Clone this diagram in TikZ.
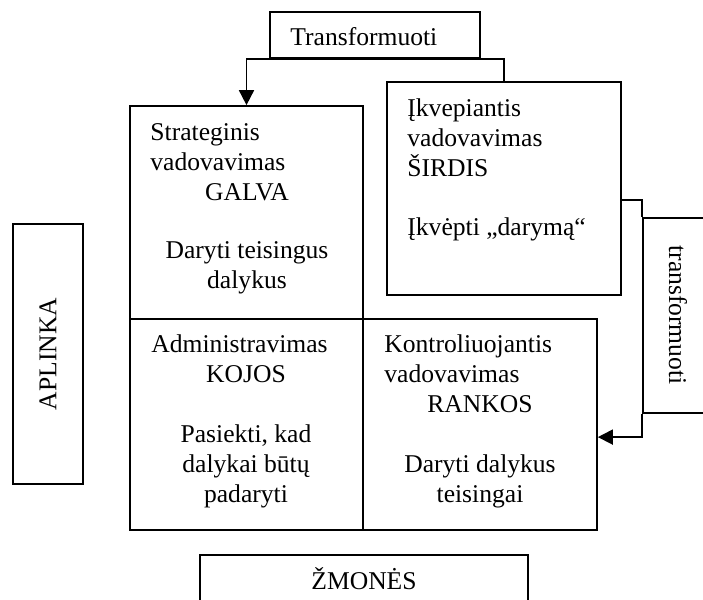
\documentclass[tikz,border=0pt]{standalone}
\usepackage{fontspec}
\setmainfont{Liberation Serif}
\usepackage{tikz}
\usetikzlibrary{positioning}
\usetikzlibrary{fit}
\usetikzlibrary{arrows.meta}

\begin{document}
\begin{tikzpicture}[x=0.469pt, y=-0.469pt,
    box/.style={draw, line width=0.8pt, inner sep=0pt},
    txt/.style={inner sep=0pt, align=left, font=\fontsize{12}{14.07}\selectfont},
    ctxt/.style={txt, align=center, anchor=base},
    arr/.style={line width=0.8pt, -{Triangle[length=7pt, width=7pt]}}]
              \useasboundingbox (0,0) rectangle (703,599);
              \clip (0,0) rectangle (703,599);
              % Blokai
              \node[box, fit={(270,12) (480,58)}] (trans) {};
              \node[box, fit={(130,106) (363,319)}] (galva) {};
              \node[box, fit={(387,82) (621,295)}] (sirdis) {};
              \node[box, fit={(130,319) (363,530)}] (kojos) {};
              \node[box, fit={(363,319) (597,530)}] (rankos) {};
              \node[box, fit={(13,224) (83,484)}] (aplinka) {};
              \node[box, fit={(643,218) (713,413)}] (transf) {};
              \node[box, fit={(200,555) (528,615)}] (zmones) {};

              % Tekstai (base = paskutine eilute)
              \node[txt, anchor=base west] (transT) at (290,45) {Transformuoti};
              \node[txt, anchor=base west] (galvaA) at (150,170) {Strateginis\\vadovavimas};
              \node[ctxt] (galvaB) at (247,200) {GALVA};
              \node[ctxt] (galvaC) at (247,288) {Daryti teisingus\\dalykus};
              \node[txt, anchor=base west] (sirdisA) at (407,176) {Įkvepiantis\\vadovavimas\\ŠIRDIS};
              \node[txt, anchor=base west] (sirdisB) at (407,235) {Įkvėpti „darymą“};
              \node[txt, anchor=base west] (kojosA) at (151,352) {Administravimas};
              \node[ctxt] (kojosB) at (246,382) {KOJOS};
              \node[ctxt] (kojosC) at (246,502) {Pasiekti, kad\\dalykai būtų\\padaryti};
              \node[txt, anchor=base west] (rankosA) at (384,382) {Kontroliuojantis\\vadovavimas};
              \node[ctxt] (rankosB) at (480,412) {RANKOS};
              \node[ctxt] (rankosC) at (480,502) {Daryti dalykus\\teisingai};
              \node[txt, rotate=90] (aplinkaT) at (aplinka.center) {APLINKA};
              \node[txt, rotate=-90] (transfT) at (678,315) {transformuoti};
              \node[ctxt] (zmonesT) at (364,589) {ŽMONĖS};

              % Rodyklės
              \coordinate (sirdisOut) at ([yshift=-5.4pt]sirdis.east);
              \coordinate (rankosIn) at ([yshift=-5.9pt]rankos.east);
              \draw[arr] (sirdis.north) -- (sirdis.north |- trans.south)
                -- (galva.north |- trans.south) -- (galva.north);
              \draw[line width=0.8pt] (sirdisOut) -- (sirdisOut -| transf.north west)
                -- (transf.north west);
              \draw[arr] (transf.south west) -- (transf.south west |- rankosIn)
                -- (rankosIn);
            \end{tikzpicture}
\end{document}
